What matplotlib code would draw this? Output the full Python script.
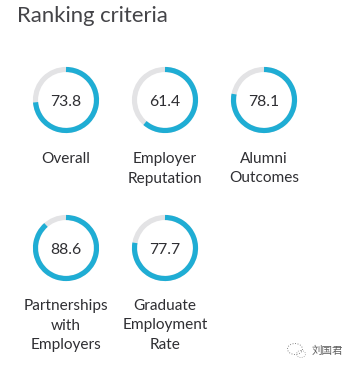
import matplotlib
matplotlib.use('Agg')
import matplotlib.pyplot as plt
from matplotlib.patches import Ellipse, Arc

# values
labels = ['Overall', 'Employer\nReputation', 'Alumni\nOutcomes',
          'Partnerships\nwith\nEmployers', 'Graduate\nEmployment\nRate']
scores = [73.8, 61.4, 78.1, 88.6, 77.7]
centers_x = [66, 165, 264, 66, 165]
centers_y = [100, 100, 100, 248, 248]
label_y = [152, 152, 152, 299, 299]

blue = '#1fadd4'
grey = '#e3e3e5'
dark = '#2f2f33'

plt.rcParams['font.family'] = ['Lato', 'DejaVu Sans']

W, H = 352, 368
fig = plt.figure(figsize=(W / 100, H / 100), dpi=100)
ax = fig.add_axes([0, 0, 1, 1])
ax.set_xlim(0, W)
ax.set_ylim(H, 0)
ax.axis('off')

ax.text(17, 16, 'Ranking criteria', fontsize=15.9, color='#444448', va='center', ha='left')

R = 30.5
lw = 3.7
for x, y, s, lab, ly in zip(centers_x, centers_y, scores, labels, label_y):
    ax.add_patch(Ellipse((x, y), 2 * R, 2 * R, fill=False, ec=grey, lw=lw))
    # y axis is inverted so angles run clockwise from 3 o'clock
    ax.add_patch(Arc((x, y), 2 * R, 2 * R, theta1=-90, theta2=-90 + s * 3.6,
                     ec=blue, lw=lw))
    ax.text(x, y + 2.5, f'{s}', fontsize=11.3, color=dark, ha='center', va='center')
    ax.text(x, ly, lab, fontsize=11.1, color=dark, ha='center', va='top', linespacing=1.5)

# watermark
ax.text(312, 351, '刘国君', fontsize=7.6, color='#444444', ha='left', va='center',
        family=['Noto Sans CJK SC', 'DejaVu Sans'], alpha=0.85)
ax.add_patch(Ellipse((295, 349), 15, 11, fill=False, ec='#888888', lw=0.7, ls=':'))
ax.add_patch(Ellipse((301, 354), 9, 7, fill=False, ec='#999999', lw=0.6, ls=':'))

fig.savefig('out.png', dpi=100)
